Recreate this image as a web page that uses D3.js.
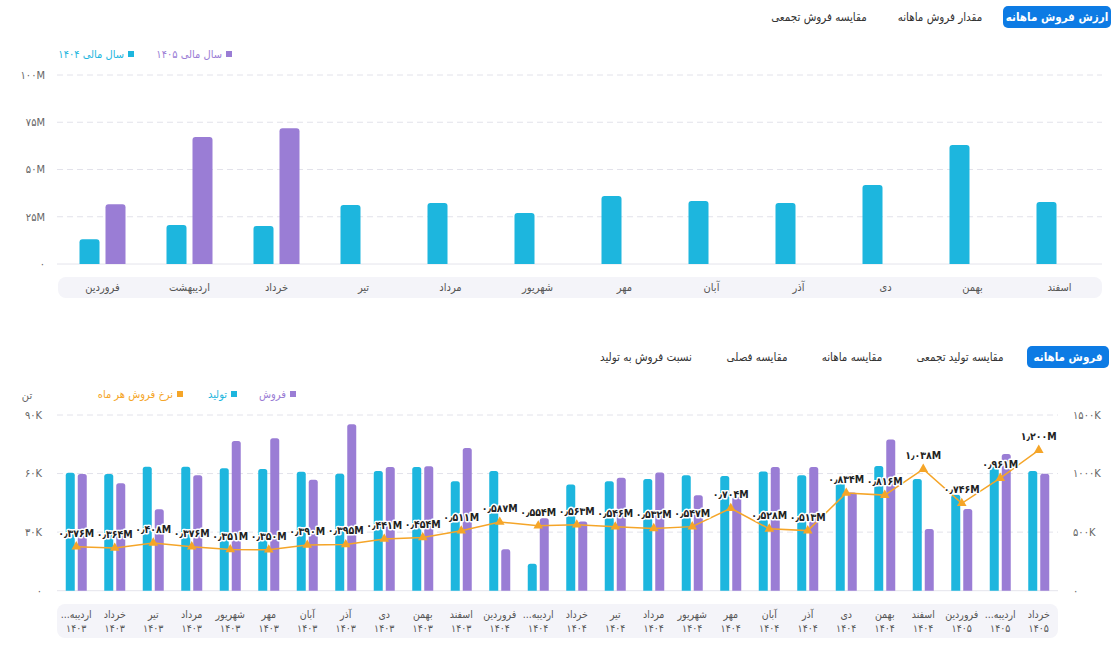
<!DOCTYPE html>
<html>
<head>
<meta charset="utf-8">
<script src="https://cdn.jsdelivr.net/npm/d3@7"></script>
<style>
  html, body { margin: 0; padding: 0; background: #fff; }
  svg { display: block; font-family: 'DejaVu Sans Condensed', 'DejaVu Sans', sans-serif; font-stretch: condensed; }
</style>
</head>
<body>
<svg id="chart" width="1116" height="650"></svg>
<script>
// ---------- DATA ----------
const topTabs = ['ارزش فروش ماهانه', 'مقدار فروش ماهانه', 'مقایسه فروش تجمعی'];
const bottomTabs = ['فروش ماهانه', 'مقایسه تولید تجمعی', 'مقایسه ماهانه', 'مقایسه فصلی', 'نسبت فروش به تولید'];

const months = ['فروردین', 'اردیبهشت', 'خرداد', 'تیر', 'مرداد', 'شهریور', 'مهر', 'آبان', 'آذر', 'دی', 'بهمن', 'اسفند'];
const value1404 = [13.1, 20.6, 20.1, 31.2, 32.3, 27.0, 36.0, 33.3, 32.3, 41.8, 63.0, 32.8]; // M
const value1405 = [31.6, 67.2, 71.8, null, null, null, null, null, null, null, null, null]; // M
const topTicks = [0, 25, 50, 75, 100];
const topLegend = ['سال مالی ۱۴۰۴', 'سال مالی ۱۴۰۵'];

const periodMonths = ['اردیبه...', 'خرداد', 'تیر', 'مرداد', 'شهریور', 'مهر', 'آبان', 'آذر', 'دی', 'بهمن', 'اسفند',
  'فروردین', 'اردیبه...', 'خرداد', 'تیر', 'مرداد', 'شهریور', 'مهر', 'آبان', 'آذر', 'دی', 'بهمن', 'اسفند',
  'فروردین', 'اردیبه...', 'خرداد'];
const periodYears = ['1403', '1403', '1403', '1403', '1403', '1403', '1403', '1403', '1403', '1403', '1403',
  '1404', '1404', '1404', '1404', '1404', '1404', '1404', '1404', '1404', '1404', '1404', '1404',
  '1405', '1405', '1405'];
const production = [60.4, 59.8, 63.5, 63.5, 62.7, 62.3, 60.9, 59.9, 61.3, 63.4, 56.1, 61.3, 13.8, 54.4, 56.1, 57.2,
  59.1, 58.7, 61.0, 59.1, 56.6, 63.9, 57.2, 49.2, 63.6, 61.3]; // K ton
const sales = [59.8, 55.0, 41.7, 59.1, 76.7, 78.1, 56.8, 85.2, 63.4, 63.7, 73.1, 21.2, 37.1, 35.4, 57.9, 60.5,
  48.9, 48.0, 63.4, 63.4, 50.3, 77.4, 31.6, 41.8, 70.0, 59.9]; // K ton
const rate = [376, 364, 408, 376, 351, 350, 390, 395, 441, 454, 511, 587, 554, 563, 546, 532, 547, 704, 528, 513,
  834, 816, 1038, 746, 961, 1200]; // K
const leftTicks = [0, 30, 60, 90];
const rightTicks = [0, 500, 1000, 1500];
const bottomLegend = ['فروش', 'تولید', 'نرخ فروش هر ماه'];
const unitLabel = 'تن';

// ---------- STYLE ----------
const C_CYAN = '#1db6de', C_PURPLE = '#9a7dd5', C_ORANGE = '#f5a528', C_BLUE = '#0d7be4';
const GRID = '#e2e2ea', AXIS_TXT = '#666', BAND = '#f4f4f9';
const fa = s => String(s).replace(/[0-9]/g, d => '۰۱۲۳۴۵۶۷۸۹'[d]).replace(/\./g, '٫');

const svg = d3.select('#chart');

function topRoundedBar(x, y, w, h, r) {
  r = Math.min(r, w / 2, h);
  return `M${x},${y + h}V${y + r}Q${x},${y} ${x + r},${y}H${x + w - r}Q${x + w},${y} ${x + w},${y + r}V${y + h}Z`;
}

function tabs(list, y, activeBox, centers) {
  const g = svg.append('g');
  g.append('rect').attr('x', activeBox[0]).attr('y', y).attr('width', activeBox[1] - activeBox[0])
    .attr('height', 22).attr('rx', 5).attr('fill', C_BLUE);
  list.forEach((t, i) => {
    g.append('text').attr('x', centers[i]).attr('y', y + 11).attr('dy', '0.35em')
      .attr('text-anchor', 'middle').attr('font-size', 11.5)
      .attr('fill', i === 0 ? '#fff' : '#333').attr('font-weight', i === 0 ? 'bold' : 'normal').text(t);
  });
}

// ---------- TOP CHART ----------
tabs(topTabs, 6, [1003, 1111], [1057, 940, 819]);

const xTop = d3.scaleBand().domain(months).range([59, 1103]);
const yTop = d3.scaleLinear().domain([0, 100]).range([264, 75]);

const gTop = svg.append('g');
topTicks.forEach(t => {
  gTop.append('line').attr('x1', 57).attr('x2', 1102).attr('y1', yTop(t)).attr('y2', yTop(t))
    .attr('stroke', t === 0 ? '#e4e4ec' : GRID).attr('stroke-dasharray', t === 0 ? null : '6,4');
  gTop.append('text').attr('x', 45).attr('y', yTop(t)).attr('dy', '0.35em').attr('text-anchor', 'end')
    .attr('font-size', 11).attr('fill', AXIS_TXT).text(t === 0 ? fa(0) : fa(t) + 'M');
});

gTop.append('rect').attr('x', 58).attr('y', 277).attr('width', 1044).attr('height', 21).attr('rx', 8).attr('fill', BAND);
months.forEach(m => {
  gTop.append('text').attr('x', xTop(m) + xTop.bandwidth() / 2).attr('y', 287.5).attr('dy', '0.35em')
    .attr('text-anchor', 'middle').attr('font-size', 11).attr('fill', '#555').text(m);
});

months.forEach((m, i) => {
  const c = xTop(m) + xTop.bandwidth() / 2;
  if (value1404[i] != null) {
    gTop.append('path').attr('d', topRoundedBar(c - 23, yTop(value1404[i]), 20, yTop(0) - yTop(value1404[i]), 3))
      .attr('fill', C_CYAN);
  }
  if (value1405[i] != null) {
    gTop.append('path').attr('d', topRoundedBar(c + 3, yTop(value1405[i]), 20, yTop(0) - yTop(value1405[i]), 3))
      .attr('fill', C_PURPLE);
  }
});

// top legend
[[topLegend[0], C_CYAN, 128], [topLegend[1], C_PURPLE, 226]].forEach(([t, col, sx]) => {
  gTop.append('rect').attr('x', sx).attr('y', 51).attr('width', 6).attr('height', 6).attr('fill', col);
  gTop.append('text').attr('x', sx - 4).attr('y', 54).attr('dy', '0.35em').attr('text-anchor', 'end')
    .attr('font-size', 11).attr('fill', col).text(t);
});

// ---------- BOTTOM CHART ----------
tabs(bottomTabs, 346, [1027, 1109], [1068, 960, 852, 757, 646]);

const idx = d3.range(periodMonths.length);
const xB = d3.scaleBand().domain(idx).range([57, 1058]);
const yL = d3.scaleLinear().domain([0, 90]).range([590.7, 415]);
const yR = d3.scaleLinear().domain([0, 1500]).range([590.7, 415]);

const gB = svg.append('g');
leftTicks.forEach((t, i) => {
  const y = yL(t);
  gB.append('line').attr('x1', 57).attr('x2', 1058).attr('y1', y).attr('y2', y)
    .attr('stroke', t === 0 ? '#e4e4ec' : GRID).attr('stroke-dasharray', t === 0 ? null : '6,4');
  gB.append('text').attr('x', 42).attr('y', y).attr('dy', '0.35em').attr('text-anchor', 'end')
    .attr('font-size', 11).attr('fill', AXIS_TXT).text(t === 0 ? fa(0) : fa(t) + 'K');
});
rightTicks.forEach(t => {
  gB.append('text').attr('x', 1073).attr('y', yR(t)).attr('dy', '0.35em').attr('text-anchor', 'start')
    .attr('font-size', 11).attr('fill', AXIS_TXT).text(t === 0 ? fa(0) : fa(t) + 'K');
});
gB.append('text').attr('x', 27).attr('y', 395).attr('dy', '0.35em').attr('text-anchor', 'middle')
  .attr('font-size', 11).attr('fill', AXIS_TXT).text(unitLabel);

gB.append('rect').attr('x', 57).attr('y', 604).attr('width', 1001).attr('height', 34).attr('rx', 8).attr('fill', BAND);
idx.forEach(i => {
  const c = xB(i) + xB.bandwidth() / 2;
  gB.append('text').attr('x', c).attr('y', 614).attr('dy', '0.35em').attr('text-anchor', 'middle')
    .attr('direction', 'rtl')
    .attr('font-size', 10.5).attr('fill', '#555').text(periodMonths[i]);
  gB.append('text').attr('x', c).attr('y', 628).attr('dy', '0.35em').attr('text-anchor', 'middle')
    .attr('font-size', 10.5).attr('fill', '#555').text(fa(periodYears[i]));
});

idx.forEach(i => {
  const c = xB(i) + xB.bandwidth() / 2;
  gB.append('path').attr('d', topRoundedBar(c - 10.5, yL(production[i]), 9, yL(0) - yL(production[i]), 2.5))
    .attr('fill', C_CYAN);
  gB.append('path').attr('d', topRoundedBar(c + 1.5, yL(sales[i]), 9, yL(0) - yL(sales[i]), 2.5))
    .attr('fill', C_PURPLE);
});

const line = d3.line().x(i => xB(i) + xB.bandwidth() / 2).y(i => yR(rate[i]));
gB.append('path').datum(idx).attr('d', line).attr('fill', 'none').attr('stroke', C_ORANGE).attr('stroke-width', 1.5);
const tri = d3.symbol().type(d3.symbolTriangle).size(40);
idx.forEach(i => {
  gB.append('path').attr('d', tri).attr('transform', `translate(${xB(i) + xB.bandwidth() / 2},${yR(rate[i])})`)
    .attr('fill', C_ORANGE);
});
idx.forEach(i => {
  gB.append('text').attr('x', xB(i) + xB.bandwidth() / 2).attr('y', yR(rate[i]) - 10)
    .attr('text-anchor', 'middle').attr('font-size', 10.5).attr('font-weight', 'bold')
    .attr('direction', 'ltr').attr('unicode-bidi', 'bidi-override')
    .attr('fill', '#222').attr('stroke', '#fff').attr('stroke-width', 3).attr('paint-order', 'stroke')
    .attr('stroke-linejoin', 'round')
    .text(fa((rate[i] / 1000).toFixed(3)) + 'M');
});

// bottom legend
[[bottomLegend[0], C_PURPLE, 290], [bottomLegend[1], C_CYAN, 231], [bottomLegend[2], C_ORANGE, 177]].forEach(([t, col, sx]) => {
  gB.append('rect').attr('x', sx).attr('y', 391).attr('width', 6).attr('height', 6).attr('fill', col);
  gB.append('text').attr('x', sx - 4).attr('y', 394).attr('dy', '0.35em').attr('text-anchor', 'end')
    .attr('font-size', 11).attr('fill', col).text(t);
});
</script>
</body>
</html>
